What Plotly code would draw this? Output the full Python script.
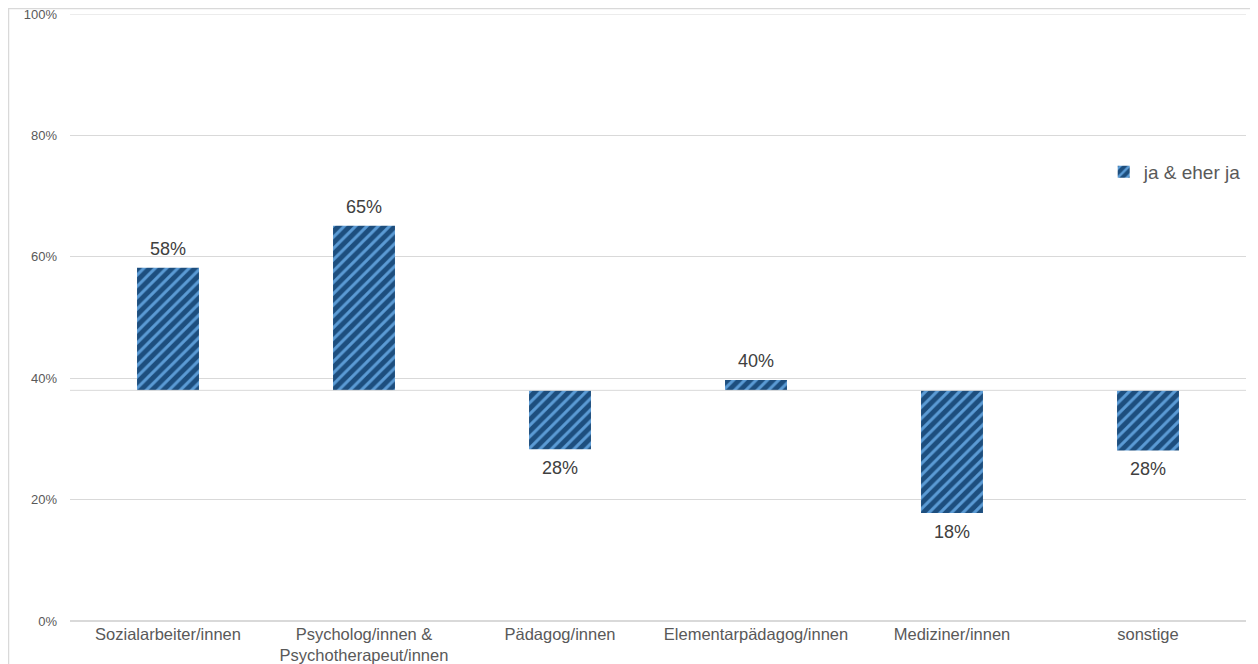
import plotly.graph_objects as go

categories = ["Sozialarbeiter/innen", "Psycholog/innen &<br>Psychotherapeut/innen", "Pädagog/innen",
              "Elementarpädagog/innen", "Mediziner/innen", "sonstige"]
values = [58.2, 65.1, 28.3, 39.7, 17.8, 28.1]
labels = ["58%", "65%", "28%", "40%", "18%", "28%"]
y_ticks = [0, 20, 40, 60, 80, 100]
axis_cross = 38
series_name = "ja & eher ja"

dark = "#1d4e7e"
light = "#5b9bd5"

fig = go.Figure()
fig.add_trace(go.Bar(
    x=categories,
    y=[v - axis_cross for v in values],
    base=axis_cross,
    name=series_name,
    width=0.316,
    marker=dict(
        color=dark,
        line=dict(width=0),
        pattern=dict(shape="/", fgcolor=light, bgcolor=dark,
                     size=8, solidity=0.38, fillmode="replace"),
    ),
    showlegend=True,
))

# value labels above / below the bars
for cat, v, lab in zip(categories, values, labels):
    fig.add_annotation(x=cat, y=v, text=lab, showarrow=False, yanchor="middle",
                       yshift=19 if v >= axis_cross else -19,
                       font=dict(size=18, color="#404040"))

# horizontal axis crosses at 38%
fig.add_shape(type="line", xref="paper", x0=0, x1=1, yref="y", y0=axis_cross, y1=axis_cross,
              line=dict(color="#d9d9d9", width=1))
# top gridline (100%)
fig.add_shape(type="line", xref="paper", x0=0, x1=1, yref="y", y0=y_ticks[-1], y1=y_ticks[-1],
              line=dict(color="#d9d9d9", width=1), layer="below")
# chart border
fig.add_shape(type="rect", xref="paper", yref="paper", x0=-0.0523, x1=1.0051, y0=-0.08, y1=1.0091,
              line=dict(color="#d9d9d9", width=1.5), layer="below")

fig.update_layout(
    width=1250, height=656,
    margin=dict(l=62, r=12, t=6, b=43),
    plot_bgcolor="white", paper_bgcolor="white",
    font=dict(family="Arial, Liberation Sans", color="#595959"),
    legend=dict(x=0.879, y=0.74, xanchor="left", yanchor="middle",
                font=dict(size=19, color="#595959"), bgcolor="rgba(0,0,0,0)",
                itemwidth=30),
)
fig.update_xaxes(showline=False, showgrid=False, ticks="", automargin=False, ticklabelstandoff=1,
                 tickfont=dict(size=16.5, color="#595959"))
fig.update_yaxes(range=[0, 100], tickmode="array", tickvals=y_ticks,
                 ticktext=[f"{t}%" for t in y_ticks], showgrid=True, gridcolor="#d9d9d9",
                 zeroline=True, zerolinecolor="#d9d9d9", showline=False, ticklabelstandoff=12,
                 ticklabeloverflow="allow", automargin=False,
                 tickfont=dict(size=13, color="#595959"))

fig.write_html("out.html")
